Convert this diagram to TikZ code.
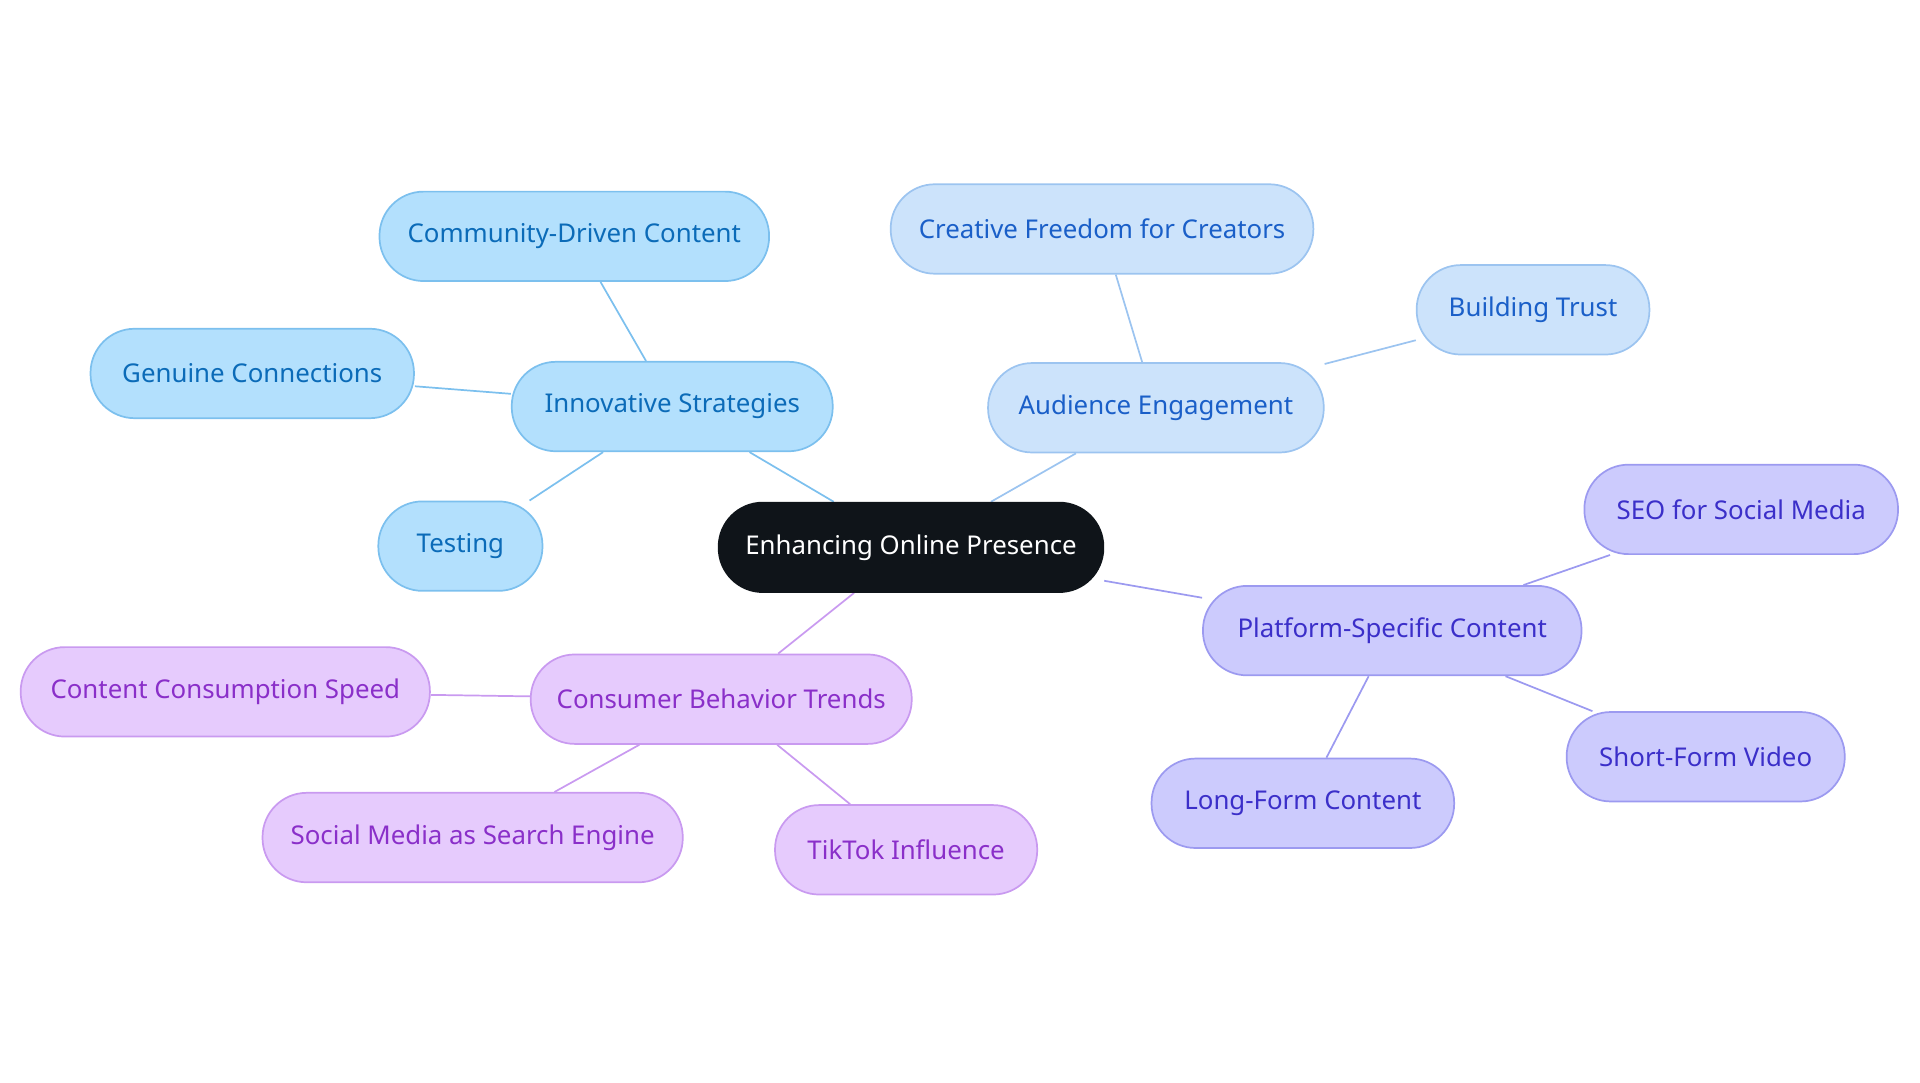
\documentclass[tikz,border=0pt]{standalone}
\usepackage{fontspec}
\setmainfont{Noto Sans}
\usetikzlibrary{backgrounds}
\definecolor{rootfill}{HTML}{0F1419}
\definecolor{bfill}{HTML}{B3E0FD}\definecolor{bline}{HTML}{7CC0EE}\definecolor{btext}{HTML}{0B6BB8}
\definecolor{afill}{HTML}{CCE3FB}\definecolor{aline}{HTML}{9CC4F0}\definecolor{atext}{HTML}{1A5FC8}
\definecolor{pfill}{HTML}{CCCBFD}\definecolor{pline}{HTML}{9C9AF0}\definecolor{ptext}{HTML}{3B2FC9}
\definecolor{cfill}{HTML}{E6CBFD}\definecolor{cline}{HTML}{C99AF0}\definecolor{ctext}{HTML}{8A2FC9}
\tikzset{
  pill/.style={rounded corners=0.36cm, minimum height=0.73cm, inner sep=0pt,
    font=\fontsize{6}{7}\selectfont},
  root/.style={pill, fill=rootfill, draw=rootfill, text=white},
  inno/.style={pill, fill=bfill, draw=bline, text=btext},
  aud/.style={pill, fill=afill, draw=aline, text=atext},
  plat/.style={pill, fill=pfill, draw=pline, text=ptext},
  cons/.style={pill, fill=cfill, draw=cline, text=ctext},
  link/.style={line width=0.9pt}
}
\begin{document}
\begin{tikzpicture}[x=0.01cm, y=-0.01cm]
  \useasboundingbox (0,0) rectangle (1568,884);
  \node (root) [root, minimum width=3.14cm] at (744,447) {Enhancing Online Presence};
  \node (inno) [inno, minimum width=2.62cm] at (549,332) {Innovative Strategies};
  \node (comm) [inno, minimum width=3.18cm] at (469,193) {Community-Driven Content};
  \node (genu) [inno, minimum width=2.64cm] at (206,305) {Genuine Connections};
  \node (test) [inno, minimum width=1.34cm] at (376,446) {Testing};
  \node (aud) [aud, minimum width=2.74cm] at (944,333) {Audience Engagement};
  \node (crea) [aud, minimum width=3.45cm] at (900,187) {Creative Freedom for Creators};
  \node (trust) [aud, minimum width=1.90cm] at (1252,253) {Building Trust};
  \node (plat) [plat, minimum width=3.09cm] at (1137,515) {Platform-Specific Content};
  \node (seo) [plat, minimum width=2.56cm] at (1422,416) {SEO for Social Media};
  \node (short) [plat, minimum width=2.27cm] at (1393,618) {Short-Form Video};
  \node (long) [plat, minimum width=2.47cm] at (1064,656) {Long-Form Content};
  \node (cons) [cons, minimum width=3.11cm] at (589,571) {Consumer Behavior Trends};
  \node (speed) [cons, minimum width=3.34cm] at (184,565) {Content Consumption Speed};
  \node (search) [cons, minimum width=3.43cm] at (386,684) {Social Media as Search Engine};
  \node (tiktok) [cons, minimum width=2.14cm] at (740,694) {TikTok Influence};
  \begin{scope}[on background layer, link]
    \draw[bline] (root) -- (inno);
    \foreach \n in {comm, genu, test} \draw[bline] (inno) -- (\n);
    \draw[aline] (root) -- (aud);
    \foreach \n in {crea, trust} \draw[aline] (aud) -- (\n);
    \draw[pline] (root) -- (plat);
    \foreach \n in {seo, short, long} \draw[pline] (plat) -- (\n);
    \draw[cline] (root) -- (cons);
    \foreach \n in {speed, search, tiktok} \draw[cline] (cons) -- (\n);
  \end{scope}
\end{tikzpicture}
\end{document}
